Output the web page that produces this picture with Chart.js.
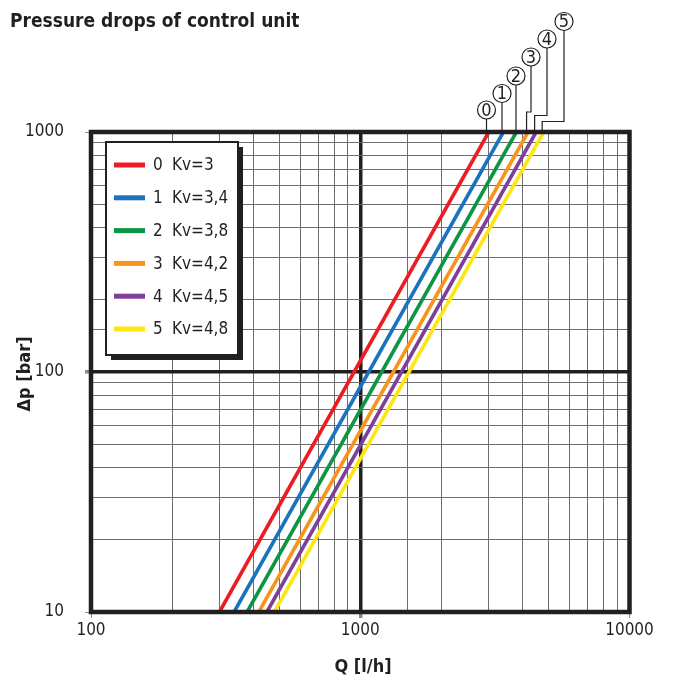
<!DOCTYPE html>
<html>
<head>
<meta charset="utf-8">
<script src="https://cdn.jsdelivr.net/npm/chart.js@4/dist/chart.umd.min.js"></script>
<style>
  body { margin: 0; background: #fff; }
  #wrap { width: 673px; height: 682px; }
</style>
</head>
<body>
<div id="wrap"><canvas id="chart" width="673" height="682"></canvas></div>
<script>
  'use strict'

  // valve curves: Kv values and flow at the ends of each line
  const curveIds = ['0', '1', '2', '3', '4', '5']
  const kvLabels = ['3', '3,4', '3,8', '4,2', '4,5', '4,8']
  const flowAtLow = [300, 340, 380, 420, 450, 480]        // l/h at 10 bar
  const flowAtHigh = [3000, 3400, 3800, 4200, 4500, 4800] // l/h at 1000 bar
  const pressureEnds = [10, 1000]
  const xTickLabels = [100, 1000, 10000]
  const yTickLabels = [10, 100, 1000]

  const colors = ['#ec1c24', '#1b72bd', '#0d9444', '#f7941d', '#7d3f98', '#ffe512']
  const narrow = '"Liberation Sans Narrow", "DejaVu Sans Condensed", sans-serif'
  const ink = '#231f20'

  const datasets = curveIds.map((id, i) => ({
    label: 'Kv=' + kvLabels[i],
    data: [
      { x: flowAtLow[i], y: pressureEnds[0] },
      { x: flowAtHigh[i], y: pressureEnds[1] }
    ],
    borderColor: colors[i],
    backgroundColor: colors[i],
    borderWidth: 3.6,
    pointRadius: 0,
    tension: 0,
    borderCapStyle: 'butt'
  }))

  // circle badges above the top of each curve
  const badges = [
    { cx: 486.5, cy: 110, elbow: null },
    { cx: 502, cy: 93.5, elbow: null },
    { cx: 516, cy: 76, elbow: null },
    { cx: 531, cy: 57, elbow: 112 },
    { cx: 547, cy: 39, elbow: 115.5 },
    { cx: 564, cy: 21.5, elbow: 121.5 }
  ]

  const decorations = {
    id: 'decorations',
    afterDraw(chart) {
      const ctx = chart.ctx
      const a = chart.chartArea
      const xs = chart.scales.x
      const ys = chart.scales.y
      ctx.save()

      // frame
      ctx.strokeStyle = ink
      ctx.lineWidth = 4.5
      ctx.strokeRect(a.left, a.top, a.right - a.left, a.bottom - a.top)

      // badges + leader lines
      ctx.lineWidth = 1.2
      ctx.font = '18px ' + narrow
      ctx.textAlign = 'center'
      ctx.textBaseline = 'middle'
      badges.forEach((b, i) => {
        const ex = xs.getPixelForValue(flowAtHigh[i])
        const ey = ys.getPixelForValue(pressureEnds[1]) - 2
        const r = 9
        ctx.strokeStyle = ink
        ctx.beginPath()
        ctx.moveTo(b.cx, b.cy + r)
        if (b.elbow === null) {
          ctx.lineTo(b.cx, ey)
        } else {
          ctx.lineTo(b.cx, b.elbow)
          ctx.lineTo(ex - 1.5, b.elbow)
          ctx.lineTo(ex - 1.5, ey)
        }
        ctx.stroke()
        ctx.fillStyle = '#fff'
        ctx.beginPath()
        ctx.arc(b.cx, b.cy, r, 0, Math.PI * 2)
        ctx.fill()
        ctx.stroke()
        ctx.fillStyle = ink
        ctx.fillText(curveIds[i], b.cx, b.cy + 1)
      })

      // legend box with shadow
      const lx = 106, ly = 142, lw = 132, lh = 213
      ctx.fillStyle = ink
      ctx.fillRect(lx + 5, ly + 5, lw, lh)
      ctx.fillStyle = '#fff'
      ctx.fillRect(lx, ly, lw, lh)
      ctx.lineWidth = 2
      ctx.strokeStyle = ink
      ctx.strokeRect(lx, ly, lw, lh)
      ctx.textAlign = 'left'
      ctx.font = '17px ' + narrow
      chart.data.datasets.forEach((ds, i) => {
        const y = 165 + i * 32.8
        ctx.strokeStyle = ds.borderColor
        ctx.lineWidth = 5
        ctx.beginPath()
        ctx.moveTo(114, y)
        ctx.lineTo(145, y)
        ctx.stroke()
        ctx.fillStyle = ink
        ctx.fillText(curveIds[i], 153, y + 1)
        ctx.fillText(ds.label, 172, y + 1)
      })

      // titles
      ctx.fillStyle = ink
      ctx.font = 'bold 19px ' + narrow
      ctx.textAlign = 'left'
      ctx.textBaseline = 'alphabetic'
      ctx.fillText('Pressure drops of control unit', 10, 27)

      ctx.font = 'bold 18px ' + narrow
      ctx.textAlign = 'center'
      ctx.textBaseline = 'middle'
      ctx.fillText('Q [l/h]', 363, 667)
      ctx.translate(25, 374)
      ctx.rotate(-Math.PI / 2)
      ctx.fillText('\u0394p [bar]', 0, 0)
      ctx.restore()
    }
  }

  function gridFor(labels, heavy) {
    return {
      color: c => labels.includes(c.tick.value) ? ink : '#6d6e70',
      lineWidth: c => c.tick.value === heavy ? 3.5 : 1,
      tickColor: c => labels.includes(c.tick.value) ? '#888' : 'rgba(0,0,0,0)',
      tickLength: 6
    }
  }

  new Chart(document.getElementById('chart'), {
    type: 'line',
    data: { datasets },
    plugins: [decorations],
    options: {
      responsive: false,
      animation: false,
      layout: { padding: { top: 132, right: 43.5, left: 0, bottom: 0 } },
      plugins: { legend: { display: false }, tooltip: { enabled: false } },
      scales: {
        x: {
          type: 'logarithmic',
          min: 100,
          max: 10000,
          border: { display: false },
          grid: gridFor(xTickLabels, 1000),
          ticks: {
            autoSkip: false,
            maxRotation: 0,
            padding: 2,
            color: ink,
            font: { family: narrow, size: 17 },
            callback: v => xTickLabels.includes(v) ? String(v) : ''
          },
          afterFit: s => {
            s.height = 70
            s.paddingLeft = 0
            s.paddingRight = 0
          }
        },
        y: {
          type: 'logarithmic',
          min: 10,
          max: 1000,
          border: { display: false },
          grid: gridFor(yTickLabels, 100),
          ticks: {
            autoSkip: false,
            padding: 21,
            color: ink,
            font: { family: narrow, size: 17 },
            callback: v => yTickLabels.includes(v) ? String(v) : ''
          },
          afterFit: s => {
            s.width = 91
            s.paddingTop = 0
            s.paddingBottom = 0
          }
        }
      }
    }
  })
</script>
</body>
</html>
